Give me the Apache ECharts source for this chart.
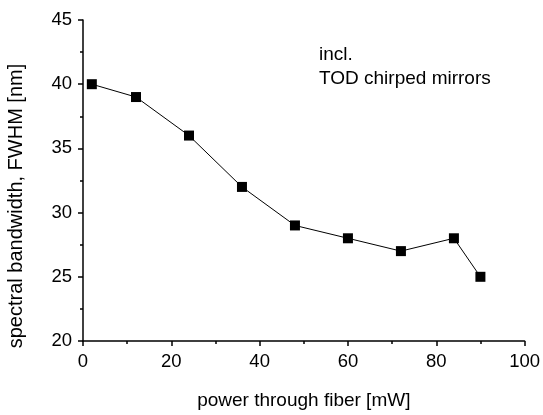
<!DOCTYPE html>
<html>
<head>
<meta charset="utf-8">
<script src="https://cdn.jsdelivr.net/npm/echarts@6/dist/echarts.min.js"></script>
<style>html,body{margin:0;padding:0;background:#fff;}#c{width:543px;height:415px;}</style>
</head>
<body>
<div id="c"></div>
<script>
const powerMW = [2, 12, 24, 36, 48, 60, 72, 84, 90];
const bandwidthNm = [40, 39, 36, 32, 29, 28, 27, 28, 25];
const xTitle = 'power through fiber [mW]';
const yTitle = 'spectral bandwidth, FWHM [nm]';
const noteLines = ['incl.', 'TOD chirped mirrors'];

const chart = echarts.init(document.getElementById('c'), null, {renderer: 'canvas'});
const font = 'Liberation Sans, Arial, sans-serif';
const axisCommon = {
  axisLine: {show: true, onZero: false, lineStyle: {color: '#000', width: 1.5}},
  axisTick: {show: true, inside: false, length: 5, lineStyle: {color: '#000', width: 1.5}},
  minorTick: {show: true, splitNumber: 2, length: 3, lineStyle: {color: '#000', width: 1.5}},
  splitLine: {show: false},
  axisLabel: {color: '#000', fontSize: 18.5, fontFamily: font, margin: 11},
  nameTextStyle: {color: '#000', fontSize: 19, fontFamily: font}
};
chart.setOption({
  animation: false,
  backgroundColor: '#fff',
  grid: {left: 83, right: 16, top: 20, bottom: 66, containLabel: false},
  xAxis: Object.assign({}, axisCommon, {
    type: 'value', min: 0, max: 100, interval: 20,
    name: xTitle, nameLocation: 'middle', nameGap: 50
  }),
  yAxis: Object.assign({}, axisCommon, {
    type: 'value', min: 20, max: 45, interval: 5
  }),
  graphic: [{
    type: 'text', x: 16, y: 206, rotation: Math.PI / 2,
    style: {text: yTitle, font: '20px ' + font, fill: '#000', align: 'center', verticalAlign: 'middle'}
  }, {
    type: 'text', left: 319, top: 43,
    style: {text: noteLines.join('\n'), font: '19px ' + font, fill: '#000', lineHeight: 24}
  }],
  series: [{
    type: 'line',
    data: powerMW.map((x, i) => [x, bandwidthNm[i]]),
    symbol: 'rect', symbolSize: 10,
    lineStyle: {color: '#000', width: 1},
    itemStyle: {color: '#000'}
  }]
});
</script>
</body>
</html>
